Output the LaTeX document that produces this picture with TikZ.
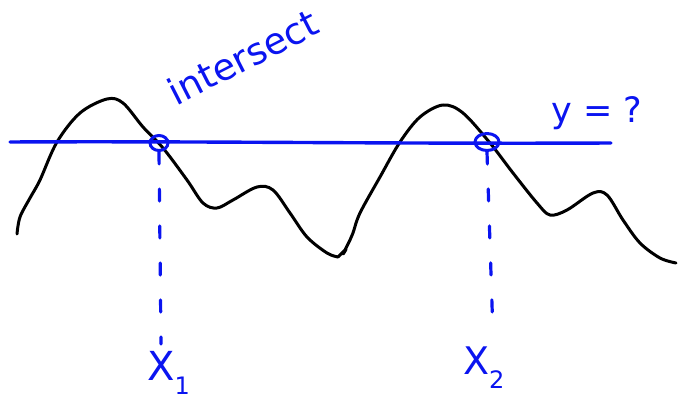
\documentclass[tikz,border=0pt]{standalone}
\usepackage{fontspec}
\setmainfont{DejaVu Sans}
\usetikzlibrary{shapes.geometric}
\definecolor{penblue}{RGB}{10,20,240}
\tikzset{
  curveline/.style={line width=3pt,black,line cap=round,line join=round},
  blueline/.style={line width=3.4pt,penblue,line cap=round},
  ring/.style={ellipse,draw=penblue,line width=3pt,inner sep=0pt,minimum width=18pt,minimum height=15pt},
  dropline/.style={line width=3.2pt,penblue,line cap=round,dash pattern=on 12pt off 25pt},
  hand/.style={text=penblue,inner sep=0pt}
}
\newcommand{\handsub}[1]{\raisebox{-0.35em}{\fontsize{24}{24}\selectfont #1}}
\begin{document}
\begin{tikzpicture}[x=1pt,y=-1pt]
\useasboundingbox (0,0) rectangle (678,401);
% curve
\draw[curveline] plot[smooth,tension=0.55] coordinates {
 (17,234) (20,217) (30,198) (40,180) (57,142) (80,113) (107,99) (123,103) (143,127)
 (163,148) (187,180) (203,203) (217,208) (233,200) (257,187) (273,190) (290,213)
 (307,237) (327,253) (338,257)};
\draw[curveline] plot[smooth,tension=0.55] coordinates {
 (338,257) (346,249) (343,254) (350,240) (353,233) (360,213) (380,177) (400,142) (420,117)
 (443,105) (463,113) (490,143) (513,173) (537,203) (550,215) (567,210) (593,193)
 (607,195) (623,220) (640,243) (660,258) (676,263)};
% horizontal line
\coordinate (la) at (10,142);
\coordinate (lb) at (611,143);
\draw[blueline] (la) .. controls (200,141) and (400,144) .. (lb);
% rings
\node[ring] (c1) at (159,143) {};
\node[ring,minimum width=24pt,minimum height=17pt] (c2) at (487,142) {};
% labels
\node[hand,font=\fontsize{37}{37}\selectfont,rotate=27] (inter) at (243,57) {intersect};
\node[hand,font=\fontsize{35}{35}\selectfont] (yq) at (597,113) {y = ?};
\node[hand,font=\fontsize{40}{40}\selectfont,anchor=north west] (x1) at (147,351) {X\handsub{1}};
\node[hand,font=\fontsize{38}{38}\selectfont,anchor=north west] (x2) at (463,347) {X\handsub{2}};
% dashed drop lines
\coordinate (d1) at (161,344);
\coordinate (d2) at (493,335);
\draw[dropline] (c1.south) -- (d1);
\draw[dropline] (c2.south) -- (d2);
\end{tikzpicture}
\end{document}
